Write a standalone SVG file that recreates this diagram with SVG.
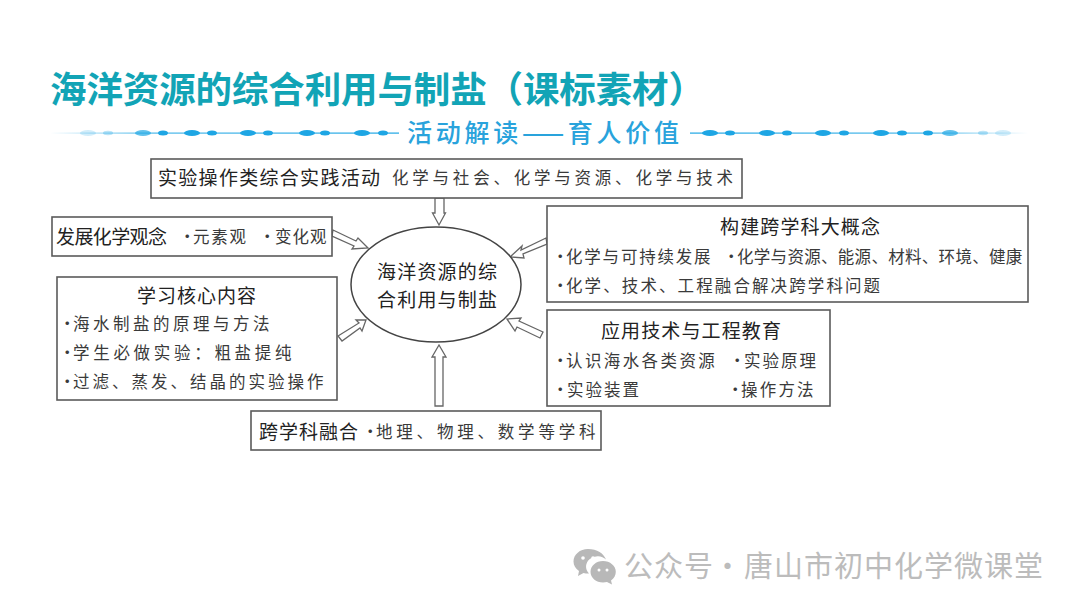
<svg xmlns="http://www.w3.org/2000/svg" width="1080" height="610" viewBox="0 0 1080 610">
<defs>
<style>
text{font-family:"Noto Sans CJK SC","Noto Sans",sans-serif;fill:#222}
.box{fill:#fff;stroke:#5a5a5a;stroke-width:1.6}
.ar{fill:#fff;stroke:#666;stroke-width:1.3;stroke-linejoin:miter}
.h{font-size:19px}
.t{font-size:16.5px;fill:#3a3a3a}
.title{font-size:36.500px;font-weight:700;fill:#12a4b6}
.sub{font-size:25px;fill:#29a3dc;font-weight:500}
.wm{font-size:29px;fill:#bcbcbc}
.b1{fill:#1ea6e4}
.wc{fill:#b8b8b8}
</style>
<linearGradient id="gl" x1="0" x2="1" y1="0" y2="0"><stop offset="0" stop-color="#1ea6e4" stop-opacity="0"/><stop offset=".3" stop-color="#1ea6e4" stop-opacity=".8"/><stop offset="1" stop-color="#1ea6e4"/></linearGradient>
<linearGradient id="gr" x1="0" x2="1" y1="0" y2="0"><stop offset="0" stop-color="#1ea6e4"/><stop offset=".7" stop-color="#1ea6e4" stop-opacity=".8"/><stop offset="1" stop-color="#1ea6e4" stop-opacity="0"/></linearGradient>
</defs>
<rect width="1080" height="610" fill="#fff"/>
<g id="heading">
<text class="title" x="50" y="103" textLength="655">海洋资源的综合利用与制盐（课标素材）</text>
<text class="sub" x="407" y="142" textLength="272">活动解读——育人价值</text>
</g>
<g id="ribbon-left">
<rect x="50" y="132.500" width="349" height="1.200" fill="url(#gl)"/>
<ellipse class="b1" cx="88" cy="133" rx="8" ry="3" opacity=".2"/><ellipse class="b1" cx="108" cy="133" rx="5" ry="2.200" opacity=".3"/>
<ellipse class="b1" cx="143" cy="133" rx="8" ry="3" opacity=".7"/><ellipse class="b1" cx="163" cy="133" rx="5" ry="2.500"/>
<ellipse class="b1" cx="192" cy="133" rx="8" ry="3"/><ellipse class="b1" cx="212" cy="133" rx="5" ry="2.500"/>
<ellipse class="b1" cx="248" cy="133" rx="8" ry="3"/><ellipse class="b1" cx="268" cy="133" rx="5" ry="2.500"/>
<ellipse class="b1" cx="307" cy="133" rx="8" ry="3"/><ellipse class="b1" cx="325" cy="133" rx="5" ry="2.500"/>
<ellipse class="b1" cx="362" cy="133" rx="8" ry="3"/><ellipse class="b1" cx="383" cy="133" rx="5" ry="2.500"/>
</g>
<g id="ribbon-right">
<rect x="690" y="132.500" width="338" height="1.200" fill="url(#gr)"/>
<ellipse class="b1" cx="710" cy="133" rx="8" ry="3"/><ellipse class="b1" cx="730" cy="133" rx="5" ry="2.500"/>
<ellipse class="b1" cx="767" cy="133" rx="8" ry="3"/><ellipse class="b1" cx="787" cy="133" rx="5" ry="2.500"/>
<ellipse class="b1" cx="823" cy="133" rx="8" ry="3"/><ellipse class="b1" cx="844" cy="133" rx="5" ry="2.500"/>
<ellipse class="b1" cx="881" cy="133" rx="8" ry="3"/><ellipse class="b1" cx="902" cy="133" rx="5" ry="2.500"/>
<ellipse class="b1" cx="928" cy="133" rx="5" ry="2.500"/><ellipse class="b1" cx="950" cy="133" rx="8" ry="3" opacity=".7"/>
<ellipse class="b1" cx="983" cy="133" rx="5" ry="2.200" opacity=".3"/><ellipse class="b1" cx="1003" cy="133" rx="8" ry="3" opacity=".2"/>
</g>
<g id="connectors">
<polygon class="ar" points="435,198 444,198 444,213 445.500,213 439,225 432.500,213 435,213"/>
<polygon class="ar" points="435,406 443,406 443,357 446,357 439,345 432,357 435,357"/>
<polygon class="ar" points="333,230 356,241 358,238 368,248 352,249 354,246 332,236"/>
<polygon class="ar" points="338,336 359,323 356,320 366,320 362,331 360,328 342,341"/>
<polygon class="ar" points="546,238 521,250 522,246 510,257 524,258 523,254 547,244"/>
<polygon class="ar" points="543,332 519,321 521,318 507,319 515,331 517,327 540,338"/>
</g>
<g id="n-practice">
<rect class="box" x="151" y="159" width="591" height="39"/>
<text class="h" x="158" y="185" textLength="222">实验操作类综合实践活动</text>
<text class="t" x="392" y="184" textLength="341">化学与社会、化学与资源、化学与技术</text>
</g>
<g id="n-concept">
<rect class="box" x="52" y="217" width="280" height="39"/>
<text class="h" x="56" y="244" textLength="111">发展化学观念</text>
<text class="t" x="179 193" y="243" style="letter-spacing:1.800px">·元素观</text>
<text class="t" x="259 275" y="243" style="letter-spacing:1px">·变化观</text>
</g>
<g id="n-core">
<rect class="box" x="57" y="277" width="280" height="123"/>
<text class="h" x="137" y="303" textLength="119">学习核心内容</text>
<text class="t" x="59 73" y="330" style="letter-spacing:3.500px">·海水制盐的原理与方法</text>
<text class="t" x="59 73" y="359" style="letter-spacing:3.700px">·学生必做实验：粗盐提纯</text>
<text class="t" x="59 73" y="388" style="letter-spacing:3px">·过滤、蒸发、结晶的实验操作</text>
</g>
<g id="n-center">
<ellipse cx="436" cy="284.500" rx="85" ry="57.500" fill="#fff" stroke="#444" stroke-width="1.500"/>
<text class="h" x="377" y="279" textLength="120">海洋资源的综</text>
<text class="h" x="377" y="307" textLength="120">合利用与制盐</text>
</g>
<g id="n-cross">
<rect class="box" x="251" y="411" width="350" height="39"/>
<text class="h" x="259" y="439" textLength="99">跨学科融合</text>
<text class="t" x="362 376" y="438" style="letter-spacing:3.800px">·地理、物理、数学等学科</text>
</g>
<g id="n-bigidea">
<rect class="box" x="547" y="206" width="481" height="96"/>
<text class="h" x="720" y="234" textLength="160">构建跨学科大概念</text>
<text class="t" x="552 566" y="263" style="letter-spacing:1.800px">·化学与可持续发展</text>
<text class="t" x="723 737" y="263" style="letter-spacing:.3px">·化学与资源、能源、材料、环境、健康</text>
<text class="t" x="552 566" y="292" style="letter-spacing:2.100px">·化学、技术、工程融合解决跨学科问题</text>
</g>
<g id="n-engineering">
<rect class="box" x="547" y="310" width="283" height="96"/>
<text class="h" x="601" y="338" textLength="180">应用技术与工程教育</text>
<text class="t" x="552 566" y="367" style="letter-spacing:2.400px">·认识海水各类资源</text>
<text class="t" x="729 744" y="367" style="letter-spacing:2px">·实验原理</text>
<text class="t" x="552 567" y="396" style="letter-spacing:2px">·实验装置</text>
<text class="t" x="727 741" y="396" style="letter-spacing:2.200px">·操作方法</text>
</g>
<g id="watermark">
<path class="wc" d="M588 549c-8 0-14.500 5.500-14.500 12.500 0 4 2 7 5.500 9.500l-1 5 5.500-3c1.500.4 3 .6 4.500.6h1a11 10 0 0 1 17-14c-2-6-9-10.600-18-10.600z"/>
<path class="wc" d="M603 561c-7 0-12.500 4.800-12.500 10.800s5.500 10.800 12.500 10.800c1.400 0 2.700-.2 4-.5l5 2.500-1-4.200c3-2 4.800-5 4.800-8.600 0-6-5.800-10.800-12.800-10.800z"/>
<circle cx="583" cy="558" r="1.800" fill="#fff"/><circle cx="593" cy="558" r="1.800" fill="#fff"/>
<circle cx="599" cy="570" r="1.500" fill="#fff"/><circle cx="607" cy="570" r="1.500" fill="#fff"/>
<text class="wm" x="624 654 684 712 713 741 744 774 804 834 864 894 924 954 984 1014" y="577">公众号 · 唐山市初中化学微课堂</text>
</g>
</svg>
